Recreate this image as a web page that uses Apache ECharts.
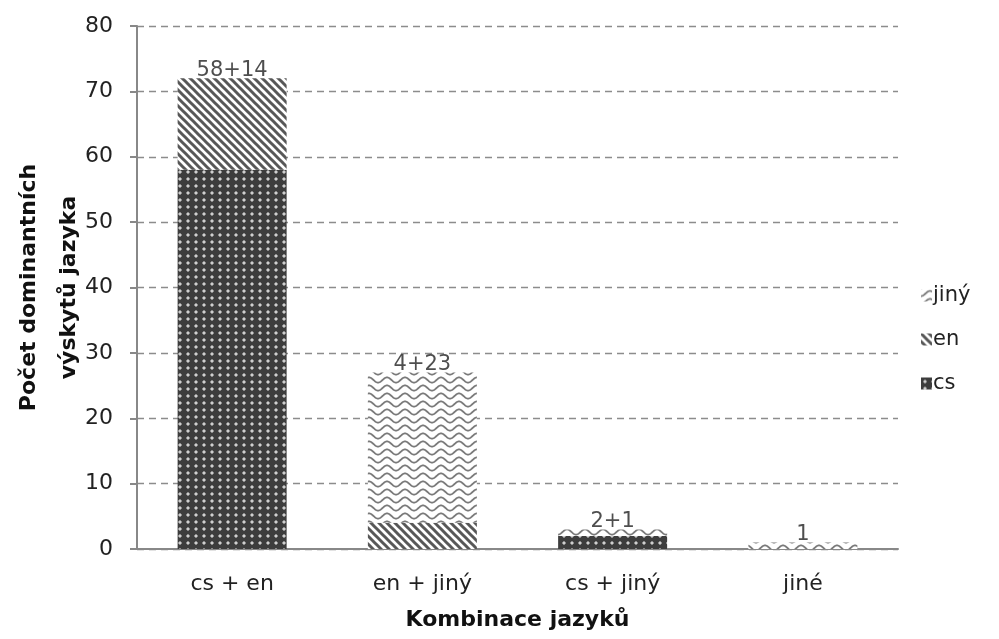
<!DOCTYPE html>
<html>
<head>
<meta charset="utf-8">
<script src="https://cdn.jsdelivr.net/npm/echarts@6/dist/echarts.min.js"></script>
<style>
  html, body { margin: 0; padding: 0; background: #fff; }
  #chart { width: 999px; height: 639px; }
</style>
</head>
<body>
<div id="chart"></div>
<script>
// Language combinations and dominant occurrence counts per language
const categories = ['cs + en', 'en + jiný', 'cs + jiný', 'jiné'];
const seriesNames = ['cs', 'en', 'jiný'];
const csValues = [58, 0, 2, 0];
const enValues = [14, 4, 0, 0];
const jinyValues = [0, 23, 1, 1];
const yTicks = [0, 10, 20, 30, 40, 50, 60, 70, 80];

const FONT = '"DejaVu Sans", "Liberation Sans", sans-serif';

// Fill patterns drawn into small repeating tiles
function tile(w, h, draw) {
  const c = document.createElement('canvas');
  c.width = w; c.height = h;
  draw(c.getContext('2d'), w, h);
  return c;
}

const dotTile = tile(8, 7, (g, w, h) => {
  g.fillStyle = '#3d3d3d';
  g.fillRect(0, 0, w, h);
  g.fillStyle = '#cfcfcf';
  g.fillRect(3, 3, 2, 2);
  g.fillStyle = '#8a8a8a';
  g.fillRect(2, 3, 1, 2); g.fillRect(5, 3, 1, 2);
  g.fillRect(3, 2, 2, 1); g.fillRect(3, 5, 2, 1);
});

const stripeTile = tile(8, 8, (g, w, h) => {
  g.fillStyle = '#ffffff';
  g.fillRect(0, 0, w, h);
  g.strokeStyle = '#585858';
  g.lineWidth = 3;
  for (let k = -1; k <= 1; k++) {
    g.beginPath();
    g.moveTo(-2 + k * 8, -2);
    g.lineTo(10 + k * 8, 10);
    g.stroke();
  }
});

const waveTile = tile(18, 8, (g, w, h) => {
  g.fillStyle = '#ffffff';
  g.fillRect(0, 0, w, h);
  g.strokeStyle = '#7a7a7a';
  g.lineWidth = 1.8;
  g.beginPath();
  for (let x = -1; x <= w + 1; x += 0.5) {
    const y = 4 + 2.6 * Math.cos((x / w) * Math.PI * 2);
    if (x === -1) g.moveTo(x, y); else g.lineTo(x, y);
  }
  g.stroke();
});

const fills = {
  'cs': { image: dotTile, repeat: 'repeat' },
  'en': { image: stripeTile, repeat: 'repeat' },
  'jiný': { image: waveTile, repeat: 'repeat' }
};

const valuesByName = { 'cs': csValues, 'en': enValues, 'jiný': jinyValues };

// Stack totals and "a+b" captions built from the series values
const totals = categories.map((_, i) => csValues[i] + enValues[i] + jinyValues[i]);
const captions = categories.map((_, i) =>
  seriesNames.map(n => valuesByName[n][i]).filter(v => v > 0).join('+'));

const barSeries = seriesNames.map(name => ({
  name: name,
  type: 'bar',
  stack: 'total',
  barWidth: 109,
  data: valuesByName[name].map(v => (v > 0 ? v : '-')),
  itemStyle: { color: fills[name] },
  emphasis: { disabled: true }
}));

const chart = echarts.init(document.getElementById('chart'), null, { renderer: 'canvas' });

chart.setOption({
  animation: false,
  backgroundColor: '#ffffff',
  grid: { left: 137, right: 101, top: 26, bottom: 90, containLabel: false, outerBoundsMode: 'none' },
  legend: {
    data: ['jiný', 'en', 'cs'],
    orient: 'vertical',
    left: 916,
    top: 280,
    itemWidth: 11,
    itemHeight: 12,
    itemGap: 23,
    icon: 'rect',
    textStyle: { fontFamily: FONT, fontSize: 21, color: '#222', padding: [0, 0, 0, -4] },
    selectedMode: false
  },
  xAxis: {
    type: 'category',
    data: categories,
    name: 'Kombinace jazyků',
    nameLocation: 'middle',
    nameGap: 60,
    nameMoveOverlap: false,
    nameTextStyle: { fontFamily: FONT, fontSize: 22, fontWeight: 'bold', color: '#111', lineHeight: 22 },
    axisLine: { lineStyle: { color: '#888888', width: 2 } },
    axisTick: { show: false },
    axisLabel: { fontFamily: FONT, fontSize: 22, color: '#222', margin: 24 }
  },
  yAxis: {
    type: 'value',
    min: yTicks[0],
    max: yTicks[yTicks.length - 1],
    interval: 10,
    name: 'Počet dominantních\nvýskytů jazyka',
    nameLocation: 'middle',
    nameGap: 48,
    nameMoveOverlap: false,
    nameTextStyle: { fontFamily: FONT, fontSize: 22, fontWeight: 'bold', color: '#111', lineHeight: 40 },
    axisLine: { show: true, lineStyle: { color: '#888888', width: 2 } },
    axisTick: { show: true, inside: false, length: 7, lineStyle: { color: '#888888', width: 2 } },
    axisLabel: { fontFamily: FONT, fontSize: 22, color: '#222', margin: 24 },
    splitLine: { lineStyle: { color: '#8c8c8c', width: 1.3, type: [7, 5] } }
  },
  series: barSeries.concat([{
    name: 'caption',
    type: 'scatter',
    data: totals,
    symbolSize: 0,
    silent: true,
    z: 5,
    label: {
      show: true,
      position: 'top',
      distance: 0,
      offset: [0, 3],
      fontFamily: FONT,
      fontSize: 21,
      color: '#222',
      formatter: p => captions[p.dataIndex]
    }
  }])
});
</script>
</body>
</html>
